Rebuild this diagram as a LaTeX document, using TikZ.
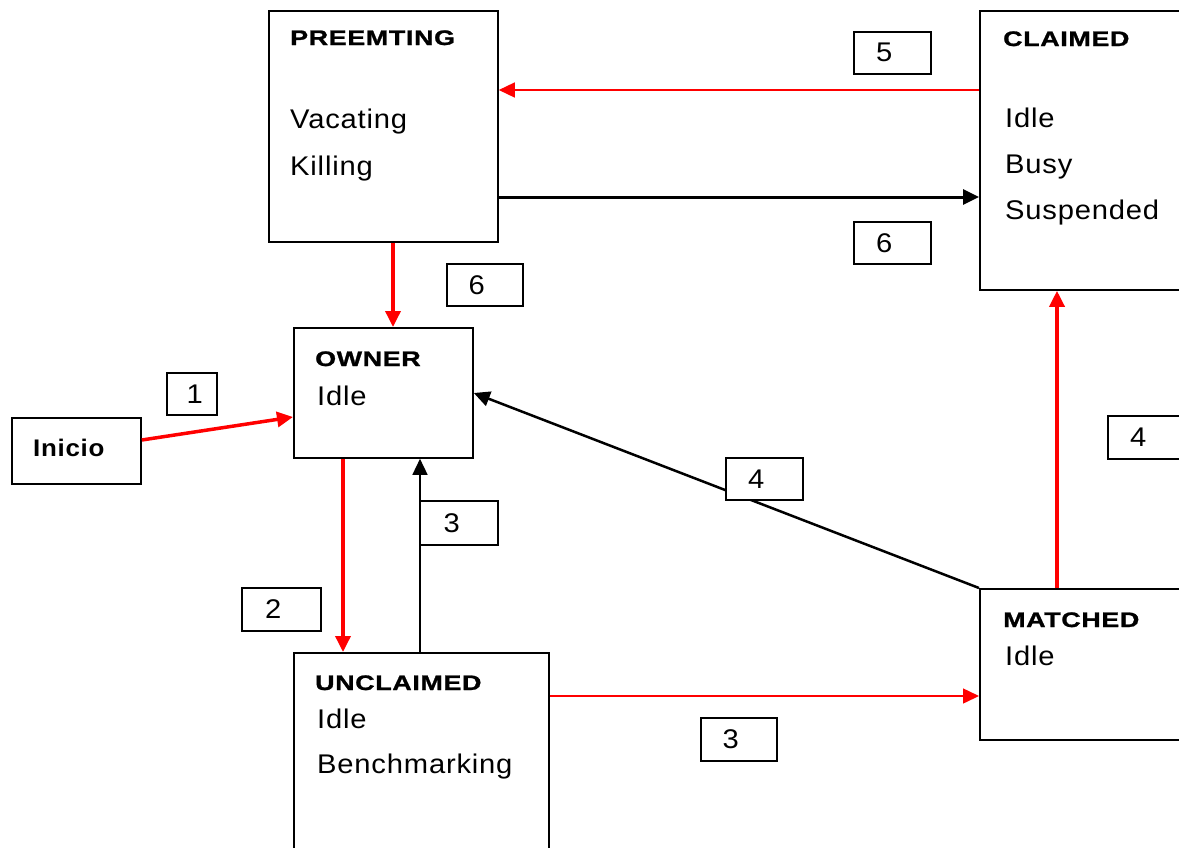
\documentclass[tikz,border=0pt]{standalone}
\usepackage{fontspec}
\setmainfont{Liberation Sans}[FakeStretch=1.08,LetterSpace=3]
\newfontfamily\headfont{Liberation Sans}[FakeStretch=1.28,LetterSpace=3,FakeBold=1.2]
\usetikzlibrary{arrows.meta}
\begin{document}
\begin{tikzpicture}[x=1pt,y=-1pt,
  state/.style={draw=black,line width=1.8pt,rectangle,inner sep=0pt,anchor=north west},
  head/.style={font=\headfont\bfseries\fontsize{21}{25}\selectfont,inner sep=0pt,anchor=base west},
  starttxt/.style={font=\bfseries\fontsize{24}{28}\selectfont,inner sep=0pt,anchor=base west},
  body/.style={font=\fontsize{27}{32}\selectfont,inner sep=0pt,anchor=base west},
  tag/.style={draw=black,line width=1.6pt,fill=white,inner sep=0pt,minimum height=42pt,
              font=\fontsize{27}{32}\selectfont,anchor=north west},
  redthick/.style={draw=red,line width=3.5pt,-{Triangle[length=16pt,width=15pt]}},
  redthin/.style={draw=red,line width=1.5pt,-{Triangle[length=16pt,width=15pt]}},
  blackthick/.style={draw=black,line width=3pt,-{Triangle[length=16pt,width=15pt]}},
  blackmid/.style={draw=black,line width=2.5pt,-{Triangle[length=16pt,width=15pt]}},
  blackthin/.style={draw=black,line width=1.5pt,-{Triangle[length=16pt,width=15pt]}}
]
\useasboundingbox[fill=white] (0,0) rectangle (1179,847);
\clip (0,0) rectangle (1179,847);

% state boxes
\node[state,minimum width=229pt,minimum height=231pt] (preempt) at (268,10) {};
\node[state,minimum width=240pt,minimum height=279pt] (claimed) at (979,10) {};
\node[state,minimum width=179pt,minimum height=130pt] (owner) at (293,327) {};
\node[state,minimum width=129pt,minimum height=66pt] (inicio) at (11,417) {};
\node[state,minimum width=255pt,minimum height=260pt] (unclaimed) at (293,652) {};
\node[state,minimum width=240pt,minimum height=151pt] (matched) at (979,588) {};

% box contents
\node[head] (preemptT) at (290,45) {PREEMTING};
\node[body] (preemptA) at (290,128) {Vacating};
\node[body] (preemptB) at (290,175) {Killing};

\node[head] (claimedT) at (1003,46) {CLAIMED};
\node[body] (claimedA) at (1005,127) {Idle};
\node[body] (claimedB) at (1005,173) {Busy};
\node[body] (claimedC) at (1005,219) {Suspended};

\node[head] (ownerT) at (315,366) {OWNER};
\node[body] (ownerA) at (317,405) {Idle};

\node[starttxt] (inicioT) at (33,456) {Inicio};

\node[head] (unclaimedT) at (315,690) {UNCLAIMED};
\node[body] (unclaimedA) at (317,728) {Idle};
\node[body] (unclaimedB) at (317,773) {Benchmarking};

\node[head] (matchedT) at (1003,627) {MATCHED};
\node[body] (matchedA) at (1005,665) {Idle};

% transitions
\draw[redthin] ([yshift=-80pt]claimed.north west) -- ([yshift=-80pt]preempt.north east);
\draw[blackthick] ([yshift=-187pt]preempt.north east) -- ([yshift=-187pt]claimed.north west);
\draw[redthick] ([xshift=125pt]preempt.south west) -- ([xshift=100pt]owner.north west);
\draw[redthick] ([yshift=-23pt]inicio.north east) -- ([yshift=-90pt]owner.north west);
\draw[redthick] ([xshift=50pt]owner.south west) -- ([xshift=50pt]unclaimed.north west);
\draw[blackthin] ([xshift=127pt]unclaimed.north west) -- ([xshift=127pt]owner.south west);
\draw[blackmid] (matched.north west) -- ([yshift=-66pt]owner.north east);
\draw[redthick] ([xshift=78pt]matched.north west) -- ([xshift=78pt]claimed.south west);
\draw[redthin] ([yshift=-44pt]unclaimed.north east) -- ([yshift=-108pt]matched.north west);

% transition numbers
\node[tag,minimum width=77pt] (t5) at (853,31) {5\hspace*{16pt}};
\node[tag,minimum width=77pt] (t6a) at (853,221) {6\hspace*{16pt}};
\node[tag,minimum width=76pt] (t6b) at (446,263) {6\hspace*{16pt}};
\node[tag,minimum width=50pt] (t1) at (166,372) {\hspace*{6pt}1};
\node[tag,minimum width=77pt,minimum height=43pt] (t4r) at (1107,415) {4\hspace*{16pt}};
\node[tag,minimum width=77pt] (t4m) at (725,457) {4\hspace*{16pt}};
\node[tag,minimum width=78pt,minimum height=44pt] (t3u) at (419,500) {3\hspace*{14pt}};
\node[tag,minimum width=79pt,minimum height=43pt] (t2) at (241,587) {2\hspace*{16pt}};
\node[tag,minimum width=76pt,minimum height=43pt] (t3l) at (700,717) {3\hspace*{16pt}};
\end{tikzpicture}
\end{document}
